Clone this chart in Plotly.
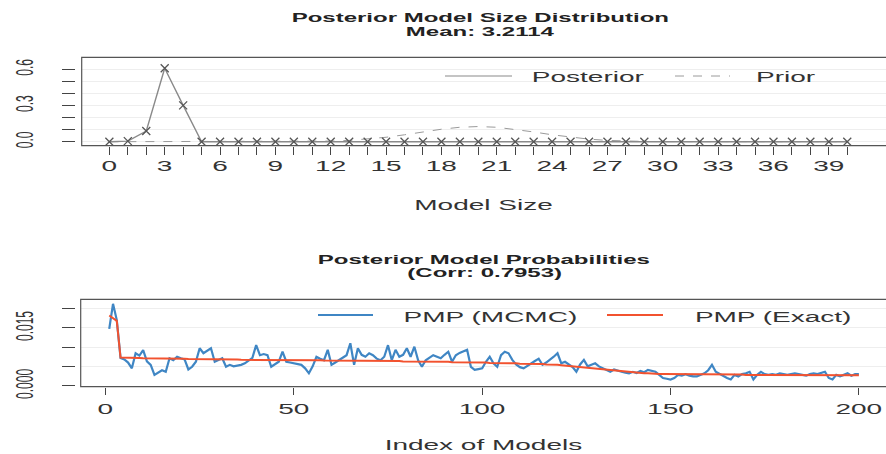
import plotly.graph_objects as go

W, H = 886, 454


def px(x):
    return x / W


def py(y):
    return 1 - y / H


# ---------------- data ----------------
model_size = list(range(0, 41))
posterior = [0.0, 0.005, 0.088, 0.607, 0.300, 0.0, 0.0, 0.0, 0.0, 0.0,
             0.0, 0.0, 0.0, 0.0, 0.0, 0.0, 0.0, 0.0, 0.0, 0.0,
             0.0, 0.0, 0.0, 0.0, 0.0, 0.0, 0.0, 0.0, 0.0, 0.0,
             0.0, 0.0, 0.0, 0.0, 0.0, 0.0, 0.0, 0.0, 0.0, 0.0, 0.0]
prior = [0.0, 0.0, 0.0, 0.0, 0.0, 0.0, 0.0, 0.0, 0.00007, 0.00025,
         0.00077, 0.00210, 0.00508, 0.01094, 0.02111, 0.03658, 0.05716, 0.08070, 0.10312, 0.11940,
         0.12537, 0.11940, 0.10312, 0.08070, 0.05716, 0.03658, 0.02111, 0.01094, 0.00508, 0.00210,
         0.00077, 0.00025, 0.00007, 0.0, 0.0, 0.0, 0.0, 0.0, 0.0, 0.0, 0.0]
size_tickvals = list(range(0, 41))
size_ticktext = ["0", "", "", "3", "", "", "6", "", "", "9", "", "", "12", "", "", "15", "", "", "18", "", "",
                 "21", "", "", "24", "", "", "27", "", "", "30", "", "", "33", "", "", "36", "", "", "39", ""]
size_ytickvals = [0.0, 0.1, 0.2, 0.3, 0.4, 0.5, 0.6]
size_yticktext = ["0.0", "", "", "0.3", "", "", "0.6"]

model_index = list(range(1, 201))
pmp_mcmc = [0.0147, 0.0212, 0.0170, 0.0072, 0.0068, 0.0060, 0.0045, 0.0084, 0.0078, 0.0092,
            0.0063, 0.0054, 0.0028, 0.0035, 0.0040, 0.0036, 0.0071, 0.0066, 0.0075, 0.0071,
            0.0068, 0.0042, 0.0049, 0.0062, 0.0097, 0.0084, 0.0090, 0.0097, 0.0062, 0.0066,
            0.0071, 0.0049, 0.0054, 0.0050, 0.0052, 0.0054, 0.0058, 0.0066, 0.0072, 0.0105,
            0.0079, 0.0082, 0.0079, 0.0049, 0.0055, 0.0062, 0.0088, 0.0062, 0.0060, 0.0058,
            0.0056, 0.0054, 0.0045, 0.0032, 0.0050, 0.0075, 0.0070, 0.0066, 0.0093, 0.0054,
            0.0060, 0.0066, 0.0072, 0.0079, 0.0110, 0.0054, 0.0097, 0.0080, 0.0075, 0.0084,
            0.0079, 0.0070, 0.0066, 0.0075, 0.0105, 0.0066, 0.0093, 0.0075, 0.0080, 0.0097,
            0.0075, 0.0101, 0.0066, 0.0049, 0.0066, 0.0072, 0.0079, 0.0075, 0.0071, 0.0080,
            0.0088, 0.0062, 0.0079, 0.0085, 0.0088, 0.0093, 0.0049, 0.0041, 0.0043, 0.0045,
            0.0062, 0.0075, 0.0058, 0.0049, 0.0079, 0.0088, 0.0084, 0.0067, 0.0055, 0.0048,
            0.0045, 0.0052, 0.0058, 0.0064, 0.0070, 0.0054, 0.0060, 0.0067, 0.0075, 0.0084,
            0.0058, 0.0062, 0.0054, 0.0048, 0.0036, 0.0055, 0.0067, 0.0050, 0.0054, 0.0058,
            0.0050, 0.0045, 0.0040, 0.0036, 0.0042, 0.0038, 0.0036, 0.0034, 0.0032, 0.0036,
            0.0033, 0.0038, 0.0035, 0.0041, 0.0038, 0.0036, 0.0028, 0.0020, 0.0018, 0.0016,
            0.0020, 0.0028, 0.0026, 0.0030, 0.0026, 0.0024, 0.0024, 0.0028, 0.0032, 0.0040,
            0.0054, 0.0036, 0.0030, 0.0024, 0.0020, 0.0016, 0.0028, 0.0024, 0.0030, 0.0032,
            0.0036, 0.0016, 0.0028, 0.0036, 0.0030, 0.0028, 0.0030, 0.0028, 0.0032, 0.0030,
            0.0028, 0.0030, 0.0032, 0.0030, 0.0028, 0.0026, 0.0030, 0.0032, 0.0030, 0.0034,
            0.0036, 0.0020, 0.0016, 0.0028, 0.0024, 0.0028, 0.0032, 0.0026, 0.0030, 0.0030]
pmp_exact = [0.0182, 0.0176, 0.0168,
             0.0073, 0.0073, 0.0072, 0.0072, 0.0072, 0.0072, 0.0071, 0.0071, 0.0071, 0.0071, 0.0071,
             0.0070, 0.0070, 0.0070, 0.0070, 0.0070, 0.0070,
             0.0070, 0.0069, 0.0069, 0.0069, 0.0069, 0.0069, 0.0069, 0.0068, 0.0068, 0.0068,
             0.0068, 0.0068, 0.0068, 0.0068, 0.0068, 0.0067, 0.0067, 0.0067, 0.0067, 0.0067,
             0.0067, 0.0067, 0.0067, 0.0067, 0.0067, 0.0066, 0.0066, 0.0066, 0.0066, 0.0066,
             0.0066, 0.0066, 0.0066, 0.0066, 0.0066, 0.0066, 0.0066, 0.0065, 0.0065, 0.0065,
             0.0065, 0.0065, 0.0065, 0.0065, 0.0065, 0.0065, 0.0065, 0.0065, 0.0065, 0.0064,
             0.0064, 0.0064, 0.0064, 0.0064, 0.0064, 0.0064, 0.0064, 0.0064, 0.0063, 0.0063,
             0.0063, 0.0063, 0.0063, 0.0063, 0.0063, 0.0062, 0.0062, 0.0062, 0.0062, 0.0062,
             0.0062, 0.0061, 0.0061, 0.0061, 0.0061, 0.0061, 0.0060, 0.0060, 0.0060, 0.0060,
             0.0060, 0.0059, 0.0059, 0.0059, 0.0059, 0.0058, 0.0058, 0.0058, 0.0058, 0.0057,
             0.0057, 0.0057, 0.0057, 0.0056, 0.0056, 0.0056, 0.0055, 0.0055, 0.0055, 0.0054,
             0.0053, 0.0052, 0.0051, 0.0050, 0.0049, 0.0048, 0.0047, 0.0046, 0.0045, 0.0044,
             0.0043, 0.0042, 0.0041, 0.0040, 0.0039, 0.0038, 0.0037, 0.0036, 0.0035, 0.0034,
             0.0033, 0.0033, 0.0032, 0.0032, 0.0031, 0.0031, 0.0030, 0.0030, 0.0030, 0.0029,
             0.0029, 0.0029, 0.0029, 0.0029, 0.0029, 0.0029, 0.0029, 0.0029, 0.0029, 0.0029,
             0.0029, 0.0029, 0.0029, 0.0029, 0.0029, 0.0029, 0.0029, 0.0029, 0.0029, 0.0028,
             0.0028, 0.0028, 0.0028, 0.0028, 0.0028, 0.0028, 0.0028, 0.0028, 0.0028, 0.0028,
             0.0028, 0.0028, 0.0028, 0.0028, 0.0028, 0.0028, 0.0028, 0.0028, 0.0028, 0.0028,
             0.0027, 0.0027, 0.0027, 0.0027, 0.0027, 0.0027, 0.0027, 0.0027, 0.0027, 0.0027]
index_tickvals = [0, 50, 100, 150, 200]
pmp_ytickvals = [0.0, 0.005, 0.010, 0.015, 0.020]
pmp_yticktext = ["0.000", "", "", "0.015", ""]

# ---------------- styling ----------------
FONT = "Liberation Sans, Arial, Helvetica, sans-serif"
TXT = "#333333"
FRAME = "#555555"
BLUE = "#3f86c4"
RED = "#f2522f"

fig = go.Figure()

fig.add_trace(go.Scatter(x=model_size, y=prior, mode="lines", name="Prior",
                         line=dict(color="#9a9a9a", width=1, dash="dash"),
                         xaxis="x", yaxis="y", showlegend=False))
fig.add_trace(go.Scatter(x=model_size, y=posterior, mode="lines+markers", name="Posterior",
                         line=dict(color="#8a8a8a", width=1.4),
                         marker=dict(symbol="x-thin", size=8, line=dict(width=1.3, color="#555555")),
                         xaxis="x", yaxis="y", showlegend=False))
fig.add_trace(go.Scatter(x=model_index, y=pmp_mcmc, mode="lines", name="PMP (MCMC)",
                         line=dict(color=BLUE, width=2.2),
                         xaxis="x2", yaxis="y2", showlegend=False))
fig.add_trace(go.Scatter(x=model_index, y=pmp_exact, mode="lines", name="PMP (Exact)",
                         line=dict(color=RED, width=2),
                         xaxis="x2", yaxis="y2", showlegend=False))

common_x = dict(ticks="outside", tickcolor="#444444", tickwidth=1, showline=False, automargin=False,
                showgrid=False, zeroline=False, tickfont=dict(family=FONT, size=14, color=TXT))
common_y = dict(ticks="outside", tickcolor="#444444", tickwidth=1, ticklen=13, showline=False,
                showgrid=True, gridcolor="#eeeeee", gridwidth=1, zeroline=False, tickangle=-90,
                anchor="free", position=px(75), side="left", ticklabelstandoff=28, automargin=False,
                tickfont=dict(family=FONT, size=12, color=TXT))

fig.update_layout(
    width=W, height=H, autosize=False,
    margin=dict(l=0, r=0, t=0, b=0, pad=0, autoexpand=False),
    paper_bgcolor="white", plot_bgcolor="white", showlegend=False,
    font=dict(family=FONT, color=TXT),
    xaxis=dict(domain=[px(81.7), 1.0], range=[-1.5, 42.1], anchor="y",
               tickmode="array", tickvals=size_tickvals, ticktext=size_ticktext, ticklen=8,
               ticklabelstandoff=0, **common_x),
    yaxis=dict(domain=[py(145.7), py(57.3)], range=[-0.033, 0.6975],
               tickmode="array", tickvals=size_ytickvals, ticktext=size_yticktext, **common_y),
    xaxis2=dict(domain=[px(80.7), 1.0], range=[-6.58, 207.2], anchor="y2",
                tickmode="array", tickvals=index_tickvals, ticklen=7, ticklabelstandoff=3,
                **common_x),
    yaxis2=dict(domain=[py(386.7), py(299.3)], range=[-0.00026, 0.02238],
                tickmode="array", tickvals=pmp_ytickvals, ticktext=pmp_yticktext, **common_y),
)

shapes = [
    dict(type="rect", xref="paper", yref="paper", x0=px(81.7), x1=px(895), y0=py(145.7), y1=py(57.3),
         line=dict(color=FRAME, width=1.2), layer="above"),
    dict(type="rect", xref="paper", yref="paper", x0=px(80.7), x1=px(895), y0=py(386.7), y1=py(299.3),
         line=dict(color=FRAME, width=1.2), layer="above"),
    # legend samples
    dict(type="line", xref="paper", yref="paper", x0=px(445), x1=px(512), y0=py(76), y1=py(76),
         line=dict(color="#8a8a8a", width=1.2)),
    dict(type="line", xref="paper", yref="paper", x0=px(675), x1=px(730), y0=py(76), y1=py(76),
         line=dict(color="#9a9a9a", width=1, dash="dash")),
    dict(type="line", xref="paper", yref="paper", x0=px(318), x1=px(373), y0=py(315), y1=py(315),
         line=dict(color=BLUE, width=2)),
    dict(type="line", xref="paper", yref="paper", x0=px(607), x1=px(663), y0=py(315), y1=py(315),
         line=dict(color=RED, width=2)),
]


def ann(text, x, y, size, bold=False, color=TXT):
    return dict(text=("<b>%s</b>" % text) if bold else text, xref="paper", yref="paper",
                x=px(x), y=py(y), xanchor="center", yanchor="middle", showarrow=False,
                font=dict(family=FONT, size=size, color=color))


annotations = [
    ann("Posterior Model Size Distribution", 480, 18, 12, True, "#222222"),
    ann("Mean: 3.2114", 480, 31.5, 12, True, "#222222"),
    ann("Model Size", 483, 205, 14),
    ann("Posterior", 588, 77, 14),
    ann("Prior", 786, 77, 14),
    ann("Posterior Model Probabilities", 484, 260, 12, True, "#222222"),
    ann("(Corr: 0.7953)", 484, 272.5, 12, True, "#222222"),
    ann("Index of Models", 483, 445, 14),
    ann("PMP (MCMC)", 490, 317, 14),
    ann("PMP (Exact)", 773, 317, 14),
]
fig.update_layout(shapes=shapes, annotations=annotations)

# Page without body margin; the reference image is horizontally stretched, so every
# text element is widened (in screen space) about its anchor point.
stretch_js = """
document.documentElement.style.margin = '0';
document.documentElement.style.overflow = 'hidden';
document.body.style.margin = '0';
document.body.style.overflow = 'hidden';
var gd = document.getElementById('{plot_id}');
var S = 2.0;
gd.querySelectorAll('text').forEach(function(t){
  if (!t.textContent || !t.textContent.trim()) return;
  var svg = t.ownerSVGElement;
  if (!svg) return;
  var bb; try { bb = t.getBBox(); } catch(e) { return; }
  if (!bb || bb.width === 0) return;
  var M = t.getCTM();
  var P = t.parentNode.getCTM();
  if (!M || !P) return;
  function tp(x, y){ return [M.a*x + M.c*y + M.e, M.b*x + M.d*y + M.f]; }
  var pts = [tp(bb.x, bb.y), tp(bb.x+bb.width, bb.y), tp(bb.x, bb.y+bb.height), tp(bb.x+bb.width, bb.y+bb.height)];
  var xs = pts.map(function(p){ return p[0]; });
  var minX = Math.min.apply(null, xs), maxX = Math.max.apply(null, xs);
  var anchor = t.getAttribute('text-anchor') || window.getComputedStyle(t).textAnchor;
  var rotated = Math.abs(M.b) > 0.5;
  var ox;
  if (rotated) ox = (minX + maxX) / 2;
  else if (anchor === 'start') ox = minX;
  else if (anchor === 'end') ox = maxX;
  else ox = (minX + maxX) / 2;
  var Smat = svg.createSVGMatrix().translate(ox, 0).scaleNonUniform(S, 1).translate(-ox, 0);
  var cons = t.transform.baseVal.consolidate();
  var L = cons ? cons.matrix : svg.createSVGMatrix();
  var N = P.inverse().multiply(Smat).multiply(P).multiply(L);
  t.setAttribute('transform', 'matrix(' + [N.a, N.b, N.c, N.d, N.e, N.f].join(',') + ')');
});
"""

fig.write_html("out.html", post_script=stretch_js, config={"displayModeBar": False})
